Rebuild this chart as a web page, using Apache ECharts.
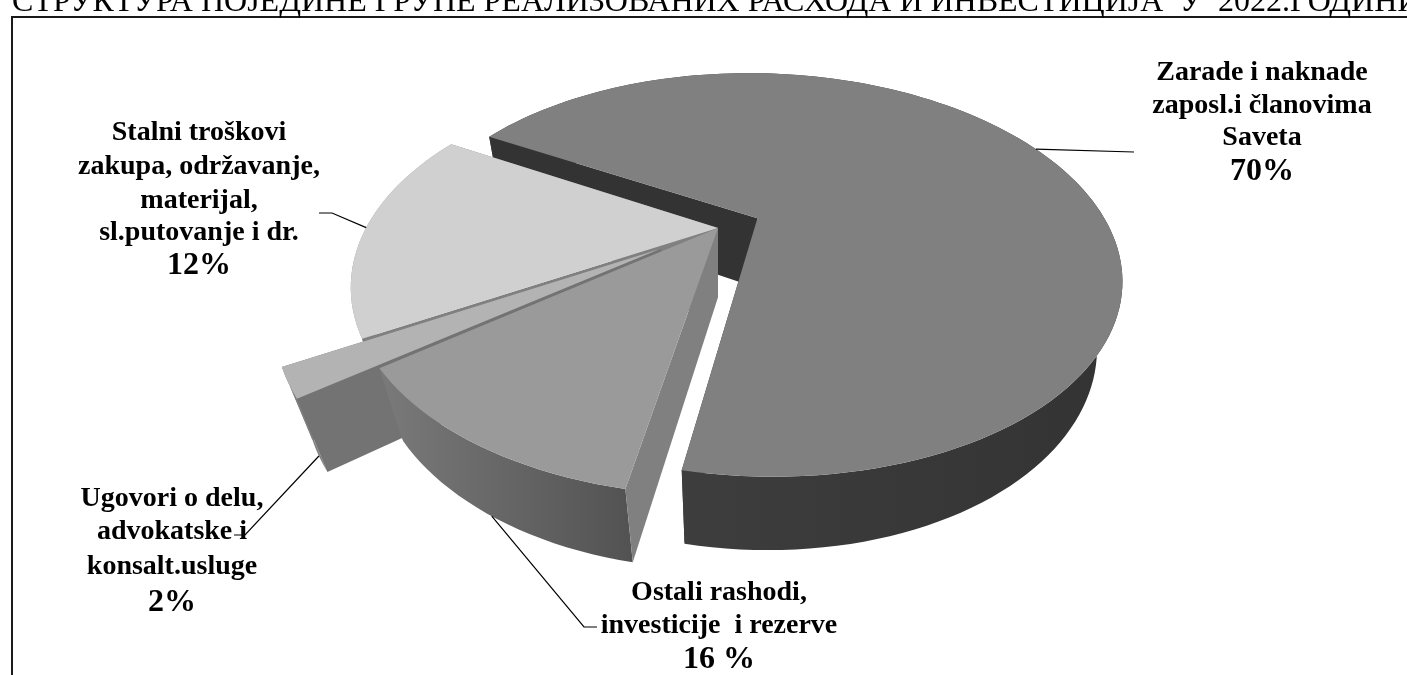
<!DOCTYPE html>
<html>
<head>
<meta charset="utf-8">
<script src="https://cdn.jsdelivr.net/npm/echarts@6/dist/echarts.min.js"></script>
<style>
    html, body { margin: 0; padding: 0; background: #fff; overflow: hidden; }
    #main { width: 1407px; height: 675px; }
</style>
</head>
<body>
<div id="main"></div>
<script>
// data
var chartTitle = 'СТРУКТУРА ПОЈЕДИНЕ ГРУПЕ РЕАЛИЗОВАНИХ РАСХОДА И ИНВЕСТИЦИЈА  У  2022.ГОДИНИ';
var categories = [
    'Zarade i naknade\nzaposl.i članovima\nSaveta',
    'Ostali rashodi,\ninvesticije  i rezerve',
    'Ugovori o delu,\nadvokatske i\nkonsalt.usluge',
    'Stalni troškovi\nzakupa, održavanje,\nmaterijal,\nsl.putovanje i dr.'
];
// slice sizes as drawn (they differ from the printed labels in the original)
var shares = [69.7, 11.6, 2.1, 16.6];
var shareLabels = ['70%', '16 %', '2%', '12%'];

// projection of the tilted disc
var CX = 718, CY = 228, FX = 352, FY = 318;
var TILT = 37 * Math.PI / 180, DIST = 2.8, DEPTH = 0.29;
var START_ANGLE = 150;

// per slice styling, same order as shares
var explode = [0.125, 0, 0.19, 0];
var drawOrder = [1, 4, 3, 2];
var topColor = ['#808080', '#9a9a9a', '#b3b3b3', '#d0d0d0'];
var cutColor = ['#333333', '#808080', '#737373', '#808080'];
var wallFrom = ['#424242', '#7a7a7a', '#808080', '#9a9a9a'];
var wallTo = ['#333333', '#525252', '#808080', '#9a9a9a'];

// label layout: centre x, y of each line, y of the percent line, leader elbow points
var labelX = [1262, 719, 172, 199];
var labelY = [[73, 106, 138, 172], [593, 626, 660], [499, 532, 567, 603], [133, 167, 201, 233, 266]];
var leaderZ = [0, 1, 1, 0];
var leaderRest = [
    [[1134, 152]],
    [[584, 627], [597, 627]],
    [[245, 535], [234, 535]],
    [[332, 213], [319, 213]]
];

function project(x, y, z) {
    var s = Math.sin(TILT), c = Math.cos(TILT);
    var up = y * s + z * c;
    var away = y * c - z * s;
    var k = DIST / (DIST + away);
    return [CX + FX * x * k, CY - FY * up * k];
}

function sliceGeometry(i) {
    var total = shares.reduce(function (a, b) { return a + b; }, 0);
    var done = 0;
    for (var j = 0; j < i; j++) done += shares[j];
    var a0 = START_ANGLE - done / total * 360;
    var a1 = a0 - shares[i] / total * 360;
    var mid = (a0 + a1) / 2 * Math.PI / 180;
    return {
        a0: a0,
        a1: a1,
        mid: mid,
        ox: Math.cos(mid) * explode[i],
        oy: Math.sin(mid) * explode[i]
    };
}

function renderSlice(params, api) {
    var i = params.dataIndex;
    var g = sliceGeometry(i);
    var steps = Math.max(4, Math.round(api.value(0) * 2));
    var topArc = [], lowArc = [];
    for (var n = 0; n <= steps; n++) {
        var a = (g.a0 + (g.a1 - g.a0) * n / steps) * Math.PI / 180;
        topArc.push(project(g.ox + Math.cos(a), g.oy + Math.sin(a), 0));
        lowArc.push(project(g.ox + Math.cos(a), g.oy + Math.sin(a), -DEPTH));
    }
    var apexTop = project(g.ox, g.oy, 0);
    var apexLow = project(g.ox, g.oy, -DEPTH);
    var z = drawOrder[i] * 10;
    var kids = [];

    function poly(points, fill, z2) {
        kids.push({ type: 'polygon', shape: { points: points }, style: { fill: fill }, z2: z2 });
    }

    // hidden cut face, outer wall, visible cut face, then the top
    poly([apexTop, topArc[steps], lowArc[steps], apexLow], cutColor[i], z);
    poly(topArc.concat(lowArc.slice().reverse()), new echarts.graphic.LinearGradient(0, 0, 1, 0, [
        { offset: 0, color: wallFrom[i] },
        { offset: 1, color: wallTo[i] }
    ]), z + 1);
    poly([apexTop, topArc[0], lowArc[0], apexLow], cutColor[i], z + 2);
    poly([apexTop].concat(topArc), topColor[i], z + 3);

    // leader line starts on the slice at its middle angle
    var anchor = project(g.ox + Math.cos(g.mid), g.oy + Math.sin(g.mid), leaderZ[i] ? -DEPTH : 0);
    kids.push({
        type: 'polyline',
        shape: { points: [anchor].concat(leaderRest[i]) },
        style: { stroke: '#000', lineWidth: 1.2, fill: null },
        z2: 100
    });

    // label text
    var lines = categories[i].split('\n');
    lines.forEach(function (line, k) {
        kids.push({
            type: 'text',
            style: {
                text: line, x: labelX[i], y: labelY[i][k], align: 'center', verticalAlign: 'middle',
                font: 'bold 28px "Liberation Serif"', fill: '#000'
            },
            z2: 101
        });
    });
    kids.push({
        type: 'text',
        style: {
            text: shareLabels[i], x: labelX[i], y: labelY[i][lines.length], align: 'center', verticalAlign: 'middle',
            font: 'bold 32px "Liberation Serif"', fill: '#000'
        },
        z2: 101
    });
    return { type: 'group', children: kids };
}

var myChart = echarts.init(document.getElementById('main'));
var option = {
    animation: false,
    backgroundColor: '#fff',
    title: {
        text: chartTitle,
        left: 12,
        top: -13,
        padding: 0,
        textStyle: { fontFamily: 'Liberation Serif', fontWeight: 'normal', fontSize: 32, color: '#000' }
    },
    graphic: [{
        type: 'rect',
        shape: { x: 12, y: 17, width: 1600, height: 900 },
        style: { fill: null, stroke: '#1a1a1a', lineWidth: 2 },
        silent: true
    }],
    series: [{
        type: 'custom',
        coordinateSystem: 'none',
        silent: true,
        renderItem: renderSlice,
        data: shares.map(function (v) { return [v]; })
    }]
};
myChart.setOption(option);
</script>
</body>
</html>
